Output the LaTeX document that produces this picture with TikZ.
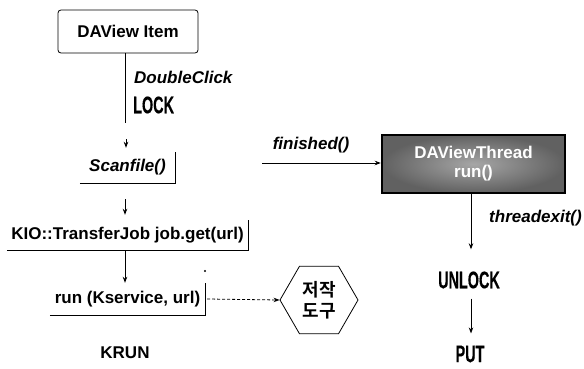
\documentclass[tikz,border=0pt]{standalone}
\usepackage{fontspec}
\setmainfont{Liberation Sans}
\newfontfamily\condfont[FakeStretch=0.6,FakeBold=0.3]{Liberation Sans Bold}
\newfontfamily\krfont{Noto Sans CJK KR Bold}
\usetikzlibrary{arrows.meta,shapes.geometric,calc}
\begin{document}
\begin{tikzpicture}[x=1pt,y=-1pt,
  every node/.style={inner sep=0pt, font=\fontsize{17}{20}\selectfont\bfseries},
  lbl/.style={font=\fontsize{17}{20}\selectfont\bfseries\itshape},
  cond/.style={font=\fontsize{24}{26}\selectfont\condfont},
  link/.style={line width=0.8pt},
  tip/.style={-{Stealth[length=6pt,width=4.5pt]}},
  threadbox/.style={draw=black, line width=2.5pt, shading=radial,
    inner color=black!35, outer color=black!62, text=white, align=center,
    minimum width=183pt, minimum height=58pt},
]
\useasboundingbox (0,0) rectangle (584,369);

% left column
\node[draw, link, rounded corners=3pt, minimum width=140pt, minimum height=43pt] (item) at (128,31.5) {DAView Item};
\node[lbl, anchor=west] (dbl) at (134,77) {DoubleClick};
\node[cond, anchor=west] (lock) at (133,105) {LOCK};

\node[minimum width=95pt, minimum height=31pt] (scan) at (127.5,167.5) {\itshape Scanfile()};
\node[minimum width=241pt, minimum height=30pt] (kio) at (127.5,235) {KIO::TransferJob job.get(url)};
\node[minimum width=155pt, minimum height=32pt] (run) at (127.5,299) {run (Kservice, url)};
\node (krun) at (125,353) {KRUN};

% open frames: bottom and right edge only
\foreach \n in {scan,kio,run}
  \draw[link] (\n.south west) -| (\n.north east);

% connectors, left column
\coordinate (g1) at (125,123);
\coordinate (g2) at (126,139);
\draw[link] (item.south -| g1) -- (g1);
\draw[link,tip] (g2) -- ($(scan.north -| g2)+(0,-4)$);
\draw[link,tip] ($(scan.south)+(-2.5,16)$) -- ($(kio.north)+(-2.5,-5)$);
\draw[link,tip] ($(kio.south)+(-2.5,0)$) -- ($(run.north)+(-2.5,0)$);

% tool hexagon
\node[draw, link, regular polygon, regular polygon sides=6, minimum size=78pt,
      align=center, font=\fontsize{18}{21}\selectfont\krfont] (hex) at (319,300) {저작\\도구};
\draw[link, dash pattern=on 3pt off 2pt, tip] ($(run.east)+(2,0)$) -- (hex.west);
\fill (205,271) circle (1.1pt);

% right column
\node[threadbox] (thread) at (473.5,164) {DAViewThread\\[-1pt]run()};
\node[lbl] (fin) at (311,145) {finished()};
\coordinate (f0) at (262,163);
\draw[link,tip] (f0) -- (f0 -| thread.west);

\node[lbl, anchor=east] (texit) at (582,218) {threadexit()};
\node[cond] (unlock) at (469,280) {UNLOCK};
\node[cond] (put) at (470,354) {PUT};
\coordinate (r1) at (471,0);
\draw[link,tip] (thread.south -| r1) -- ($(unlock.north -| r1)+(0,-22)$);
\draw[link,tip] ($(unlock.south -| r1)+(0,10)$) -- ($(put.north -| r1)+(0,-12)$);
\end{tikzpicture}
\end{document}
